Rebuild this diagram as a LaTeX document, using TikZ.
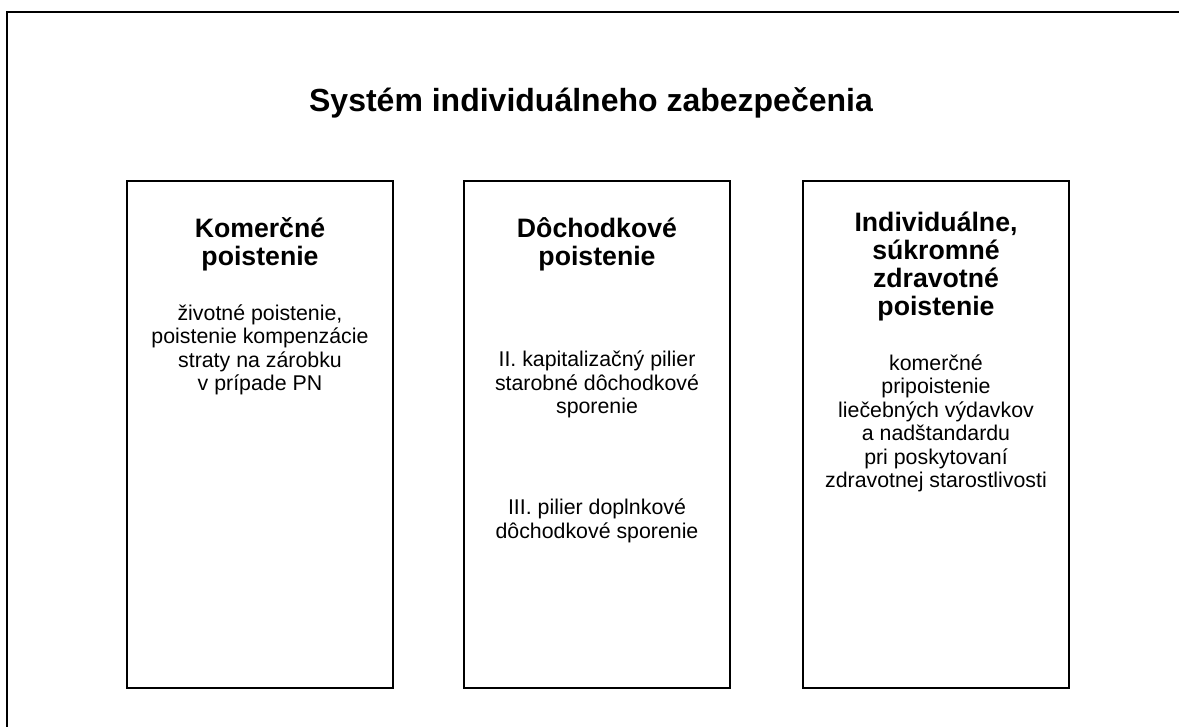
\documentclass[tikz,border=0pt]{standalone}
\usepackage{fontspec}
\setmainfont{Liberation Sans}
\usetikzlibrary{positioning}
\tikzset{
  pillar/.style={draw=black, line width=1.5pt, minimum width=199.5pt, minimum height=380.25pt, inner sep=0},
  headtext/.style={anchor=base, align=center, inner sep=0, font=\fontsize{20}{21}\selectfont\bfseries},
  bodytext/.style={anchor=base, align=center, inner sep=0, font=\fontsize{16}{17.7}\selectfont}
}
\begin{document}
\begin{tikzpicture}[x=0.75pt, y=-0.75pt]
\useasboundingbox (0,0) rectangle (1179,727);
\draw[line width=1.5pt] (7,740) |- (1190,12);
\node[anchor=base, inner sep=0, font=\fontsize{24}{28}\selectfont\bfseries] (title) at (591,112) {Systém individuálneho zabezpečenia};
\foreach [count=\i] \x in {260,597,936}{
\node[pillar] (p\i) at (\x,434.5) {};
}
% komercne (base = last line)
\node[headtext] (h1) at (260,266) {Komerčné\\poistenie};
\node[bodytext] (t1) at (260,391) {životné poistenie,\\poistenie kompenzácie\\straty na zárobku\\v prípade PN};
% dochodkove
\node[headtext] (h2) at (597,266) {Dôchodkové\\poistenie};
\node[bodytext] (t2) at (597,414) {II. kapitalizačný pilier\\starobné dôchodkové\\sporenie};
\node[bodytext] (t3) at (597,538.5) {III. pilier doplnkové\\dôchodkové sporenie};
% zdravotne
\node[headtext] (h3) at (936,316) {Individuálne,\\súkromné\\zdravotné\\poistenie};
\node[bodytext] (t4) at (936,488) {komerčné\\pripoistenie\\liečebných výdavkov\\a nadštandardu\\pri poskytovaní\\zdravotnej starostlivosti};
\end{tikzpicture}
\end{document}
